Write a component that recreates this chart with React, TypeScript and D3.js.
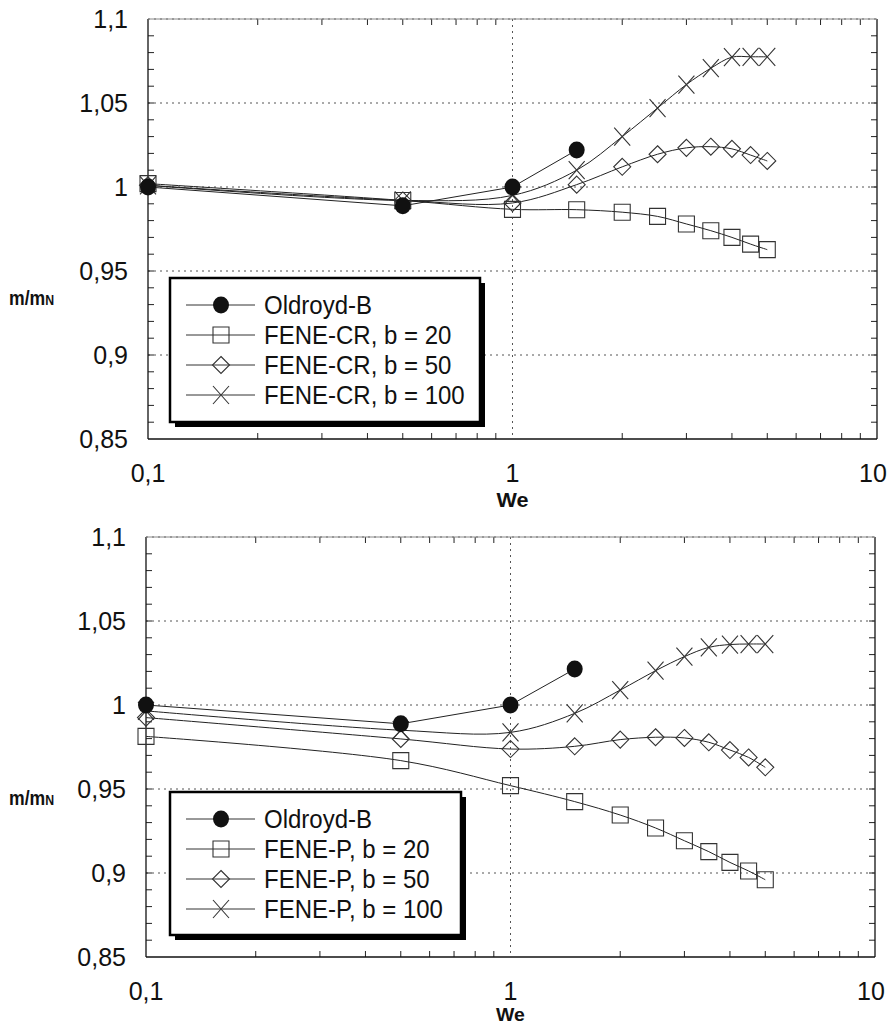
import React from "react";
import * as d3 from "d3";

// Weissenberg numbers
const weValues = [0.1, 0.5, 1, 1.5, 2, 2.5, 3, 3.5, 4, 4.5, 5];
const oldroydWe = [0.1, 0.5, 1, 1.5];

// top panel: FENE-CR
const oldroydTop = [1.0, 0.9888, 1.0, 1.022];
const feneCR20 = [1.002, 0.992, 0.9867, 0.9865, 0.985, 0.9825, 0.978, 0.974, 0.97, 0.966, 0.9627];
const feneCR50 = [1.001, 0.992, 0.9905, 1.0014, 1.012, 1.0195, 1.0233, 1.024, 1.0227, 1.019, 1.0155];
const feneCR100 = [1.001, 0.992, 0.995, 1.01, 1.03, 1.047, 1.061, 1.0707, 1.0773, 1.0775, 1.0775];

// bottom panel: FENE-P
const oldroydBottom = [1.0, 0.9888, 1.0, 1.0214];
const feneP20 = [0.9813, 0.9669, 0.952, 0.9425, 0.9345, 0.9268, 0.9192, 0.9127, 0.9063, 0.9012, 0.896];
const feneP50 = [0.9925, 0.9798, 0.9738, 0.9754, 0.9794, 0.9808, 0.9804, 0.9778, 0.9732, 0.9688, 0.9629];
const feneP100 = [0.9965, 0.985, 0.9837, 0.995, 1.0089, 1.0204, 1.0288, 1.0343, 1.036, 1.0363, 1.0363];

const yTicks = [0.85, 0.9, 0.95, 1, 1.05, 1.1];
const xTickLabels = [0.1, 1, 10];
const topLabels = ["Oldroyd-B", "FENE-CR, b = 20", "FENE-CR, b = 50", "FENE-CR, b = 100"];
const bottomLabels = ["Oldroyd-B", "FENE-P, b = 20", "FENE-P, b = 50", "FENE-P, b = 100"];

const FONT = "'Liberation Sans', Arial, sans-serif";
const comma = (v: number) => String(v).replace(".", ",");

function Marker({ kind, x, y }: { kind: string; x: number; y: number }) {
  if (kind === "circle")
    return <ellipse cx={x} cy={y} rx={8} ry={8.5} fill="#111" />;
  let d = "";
  if (kind === "square") d = "M-8,-8h16v16h-16Z";
  if (kind === "diamond") d = "M0,-8.5L8.5,0L0,8.5L-8.5,0Z";
  if (kind === "cross") d = "M-8,-9L8,9M8,-9L-8,9";
  return <path d={d} transform={`translate(${x},${y})`} fill="none" stroke="#333" strokeWidth={1.1} />;
}

function Label({ x, y, text, size, sx = 0.9, anchor = "start", bold = false }: any) {
  return (
    <g transform={`translate(${x},${y}) scale(${sx},1)`}>
      <text textAnchor={anchor} fontSize={size} fontFamily={FONT} fontWeight={bold ? "bold" : "normal"} fill="#111">
        {text}
      </text>
    </g>
  );
}

function Panel({ top, left, right, oldroyd, s20, s50, s100, labels, box, ylabY, weY, weSize }: any) {
  const x = d3.scaleLog().domain([0.1, 10]).range([left, right]);
  const y = d3.scaleLinear().domain([0.85, 1.1]).range([top + 420, top]);
  const smooth = d3
    .line<number>()
    .x((_, i) => x(weValues[i]))
    .y((d) => y(d))
    .curve(d3.curveCatmullRom.alpha(0.5));
  const straight = d3
    .line<number>()
    .x((_, i) => x(oldroydWe[i]))
    .y((d) => y(d));

  const minorX = x.ticks().filter((t) => Math.abs(Math.log10(t) % 1) > 1e-6);
  const minorY = d3.range(86, 110).map((v) => v / 100);
  const bottom = top + 420;

  const fene = [
    { vals: s20, kind: "square" },
    { vals: s50, kind: "diamond" },
    { vals: s100, kind: "cross" },
  ];
  const legendKinds = ["circle", "square", "diamond", "cross"];

  return (
    <g>
      {/* grid */}
      {[0.9, 0.95, 1, 1.05, 1.1].map((v) => (
        <line key={v} x1={left} x2={right} y1={y(v)} y2={y(v)} stroke="#555" strokeDasharray="2,4" />
      ))}
      <line x1={x(1)} x2={x(1)} y1={top} y2={bottom} stroke="#555" strokeDasharray="2,4" />
      {/* minor ticks */}
      {minorX.map((t) => (
        <g key={t}>
          <line x1={x(t)} x2={x(t)} y1={bottom} y2={bottom - 6} stroke="#222" />
          <line x1={x(t)} x2={x(t)} y1={top} y2={top + 6} stroke="#222" />
        </g>
      ))}
      {minorY.map((t) => (
        <g key={t}>
          <line x1={left} x2={left + 6} y1={y(t)} y2={y(t)} stroke="#222" />
          <line x1={right} x2={right - 6} y1={y(t)} y2={y(t)} stroke="#222" />
        </g>
      ))}
      {/* frame */}
      <line x1={left} x2={left} y1={top} y2={bottom} stroke="#111" strokeWidth={1.3} />
      <line x1={left} x2={right} y1={bottom} y2={bottom} stroke="#111" strokeWidth={1.3} />
      <line x1={right} x2={right} y1={top} y2={bottom} stroke="#111" strokeWidth={1.3} />
      <line x1={left} x2={right} y1={top} y2={top} stroke="#888" strokeWidth={1} />

      {/* axis labels */}
      {yTicks.map((v) => (
        <Label key={v} x={left - 20} y={y(v) + 9} text={comma(v)} size={25} sx={1.0} anchor="end" />
      ))}
      {xTickLabels.map((v) => (
        <Label key={v} x={v === 10 ? x(v) - 4 : x(v)} y={bottom + 43} text={comma(v)} size={25} sx={1.0} anchor="middle" />
      ))}
      <Label x={x(1)} y={weY} text="We" size={weSize} sx={1.08} anchor="middle" bold />
      <g transform={`translate(9,${ylabY}) scale(0.88,1)`}>
        <text fontSize={20} fontFamily={FONT} fontWeight="bold" fill="#111">
          m/m<tspan fontSize={14}>N</tspan>
        </text>
      </g>

      {/* series */}
      {fene.map((s) => (
        <path key={s.kind} d={smooth(s.vals) || ""} fill="none" stroke="#222" strokeWidth={1} />
      ))}
      <path d={straight(oldroyd) || ""} fill="none" stroke="#222" strokeWidth={1} />
      {fene.map((s) =>
        s.vals.map((v: number, i: number) => (
          <Marker key={s.kind + i} kind={s.kind} x={x(weValues[i])} y={y(v)} />
        ))
      )}
      {oldroyd.map((v: number, i: number) => (
        <Marker key={"o" + i} kind="circle" x={x(oldroydWe[i])} y={y(v)} />
      ))}

      {/* legend */}
      <rect x={box.x + 5} y={box.y + 5} width={box.w} height={box.h} fill="#000" />
      <rect x={box.x} y={box.y} width={box.w} height={box.h} fill="#fff" stroke="#000" strokeWidth={2.5} />
      {labels.map((lab: string, i: number) => {
        const ly = box.y + 27 + i * 30;
        return (
          <g key={lab}>
            <line x1={box.x + 16} x2={box.x + 85} y1={ly} y2={ly} stroke="#333" strokeWidth={1} />
            <Marker kind={legendKinds[i]} x={box.x + 51} y={ly} />
            <Label x={box.x + 94} y={ly + 9} text={lab} size={25} sx={0.96} />
          </g>
        );
      })}
    </g>
  );
}

export default function App() {
  return (
    <div style={{ position: "absolute", left: 0, top: 0 }}>
      <svg width={891} height={1026} style={{ display: "block", background: "#fff" }}>
        <Panel
          top={19}
          left={148}
          right={877}
          oldroyd={oldroydTop}
          s20={feneCR20}
          s50={feneCR50}
          s100={feneCR100}
          labels={topLabels}
          box={{ x: 170, y: 278, w: 310, h: 144 }}
          ylabY={305}
          weY={507}
          weSize={20}
        />
        <Panel
          top={537}
          left={146}
          right={875}
          oldroyd={oldroydBottom}
          s20={feneP20}
          s50={feneP50}
          s100={feneP100}
          labels={bottomLabels}
          box={{ x: 170, y: 792, w: 291, h: 143 }}
          ylabY={805}
          weY={1021}
          weSize={18}
        />
      </svg>
    </div>
  );
}
